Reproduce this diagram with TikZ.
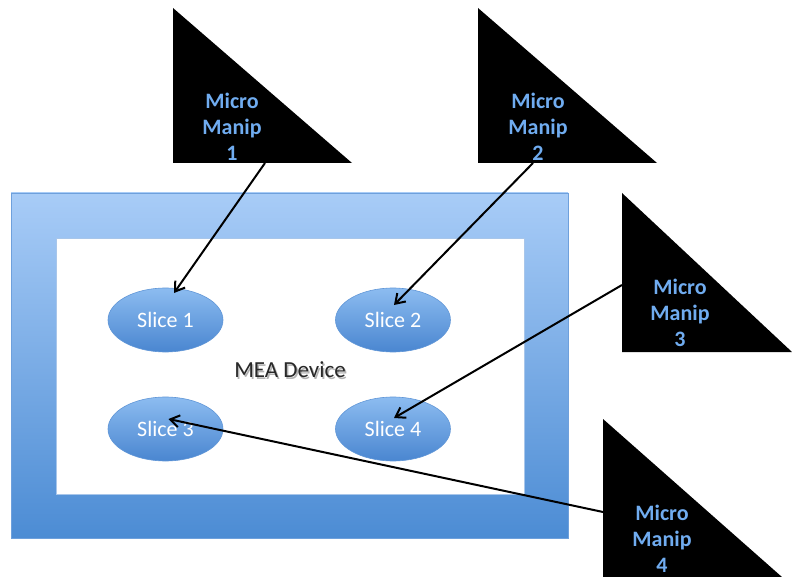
\documentclass[tikz,border=0pt]{standalone}
\usepackage{fontspec}
\setmainfont{Carlito}
\usetikzlibrary{arrows.meta,calc,shapes.geometric}

\definecolor{frameTop}{RGB}{168,204,247}
\definecolor{frameBot}{RGB}{76,140,212}
\definecolor{frameLine}{RGB}{110,160,220}
\definecolor{sliceTop}{RGB}{140,188,240}
\definecolor{sliceBot}{RGB}{74,134,208}
\definecolor{sliceLine}{RGB}{96,150,215}
\definecolor{manipText}{RGB}{112,172,240}
\definecolor{deviceText}{RGB}{40,40,40}

\tikzset{
  manip/.style={fill=black},
  maniplabel/.style={text=manipText, font=\fontsize{22}{26}\selectfont\bfseries,
    align=center, inner sep=0pt},
  slice/.style={ellipse, minimum width=115pt, minimum height=64pt, inner sep=0pt,
    top color=sliceTop, bottom color=sliceBot, draw=sliceLine, line width=0.6pt,
    text=white, font=\fontsize{22}{24}\selectfont},
  devicelabel/.style={font=\fontsize{23}{25}\selectfont},
  probe/.style={draw=black, line width=2pt,
    -{Straight Barb[length=9pt,width=12pt,line width=2pt]}}
}

\begin{document}
\begin{tikzpicture}[x=1pt,y=-1pt]
\useasboundingbox (0,0) rectangle (792,577);

% MEA device frame and its open well
\path[top color=frameTop, bottom color=frameBot, draw=frameLine, line width=0.6pt]
  (11,193) rectangle (568,538);
\path[fill=white, draw=frameLine!60, line width=0.5pt] (56,238) rectangle (524,494);

% slices on the electrode array
\node[slice] (s1) at (165.5,320) {Slice 1};
\node[slice] (s2) at (393,320) {Slice 2};
\node[slice] (s3) at (165.5,429) {Slice 3};
\node[slice] (s4) at (393,429) {Slice 4};

% device label with a soft drop shadow
\node[devicelabel, text=black!30] at (291.5,371.5) {MEA Device};
\node[devicelabel, text=deviceText] (mea) at (290,370) {MEA Device};

% micromanipulators
\fill[manip] (173,8) -- (173,163) -- (352,163) -- cycle;
\fill[manip] (478,8) -- (478,163) -- (657,163) -- cycle;
\fill[manip] (622,193) -- (622,352) -- (792,352) -- cycle;
\fill[manip] (603,419) -- (603,600) -- (808,600) -- cycle;

\node[maniplabel] (m1) at (232,127) {Micro\\Manip\\1};
\node[maniplabel] (m2) at (538,127) {Micro\\Manip\\2};
\node[maniplabel] (m3) at (680,313) {Micro\\Manip\\3};
\node[maniplabel] (m4) at (662,539) {Micro\\Manip\\4};

% probe tips leaving each manipulator
\coordinate (m1out) at (265,163);
\coordinate (m2out) at (533,163);
\coordinate (m3out) at (622,285);
\coordinate (m4out) at (603,512);

% probes
\draw[probe] (m1out) -- ([shift={(8.5,-27)}]s1.center);
\draw[probe] (m2out) -- ([shift={(1,-15)}]s2.center);
\draw[probe] (m3out) -- ([shift={(1,-11)}]s4.center);
\draw[probe] (m4out) -- ([shift={(3,-10)}]s3.center);
\end{tikzpicture}
\end{document}
